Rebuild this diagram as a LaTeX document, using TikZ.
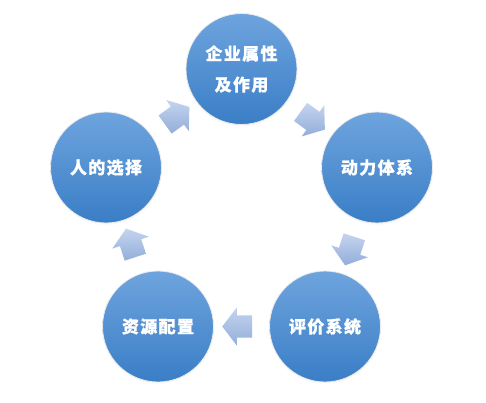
\documentclass[tikz,border=0pt]{standalone}
\usepackage{fontspec}
\setmainfont[FakeBold=0.5,LetterSpace=8]{Noto Sans CJK SC}
\usetikzlibrary{shapes.arrows,calc,shadows}
\definecolor{ctop}{HTML}{6EA4DE}
\definecolor{cbot}{HTML}{3A7EC6}
\definecolor{atop}{HTML}{C4D4EE}
\definecolor{abot}{HTML}{93AEDA}
\tikzset{
  stage/.style={circle, minimum size=111pt, inner sep=0pt, top color=ctop, bottom color=cbot,
    draw=black!8, line width=0.8pt, text=white, font=\fontsize{17}{31}\selectfont\bfseries, align=center,
    circular drop shadow={shadow xshift=0pt, shadow yshift=-1.5pt, opacity=0.15, shadow scale=1.02}},
  blockarrow/.style={single arrow, draw=none, top color=atop, bottom color=abot,
    minimum height=30pt, minimum width=38pt, inner xsep=0pt, inner ysep=11pt,
    single arrow head extend=8pt, single arrow tip angle=105, text height=0pt, text depth=0pt}
}
\begin{document}
\begin{tikzpicture}[x=1pt,y=-1pt]
\useasboundingbox[fill=white] (0,0) rectangle (486,403);
\node[stage] (top) at (241.5,69) {企业属性\\及作用};
\node[stage] (right) at (377,167.5) {动力体系};
\node[stage] (br) at (325,326.5) {评价系统};
\node[stage] (bl) at (158,326.5) {资源配置};
\node[stage] (left) at (106,167.5) {人的选择};
\node[blockarrow, rotate=-36] (a1) at ($(top)!0.5!(right)$) {};
\node[blockarrow, rotate=-108] (a2) at ($(right)!0.5!(br)$) {};
\node[blockarrow, rotate=180] (a3) at ($(br)!0.5!(bl)$) {};
\node[blockarrow, rotate=108] (a4) at ($(bl)!0.5!(left)$) {};
\node[blockarrow, rotate=36] (a5) at ($(left)!0.5!(top)$) {};
\end{tikzpicture}
\end{document}
